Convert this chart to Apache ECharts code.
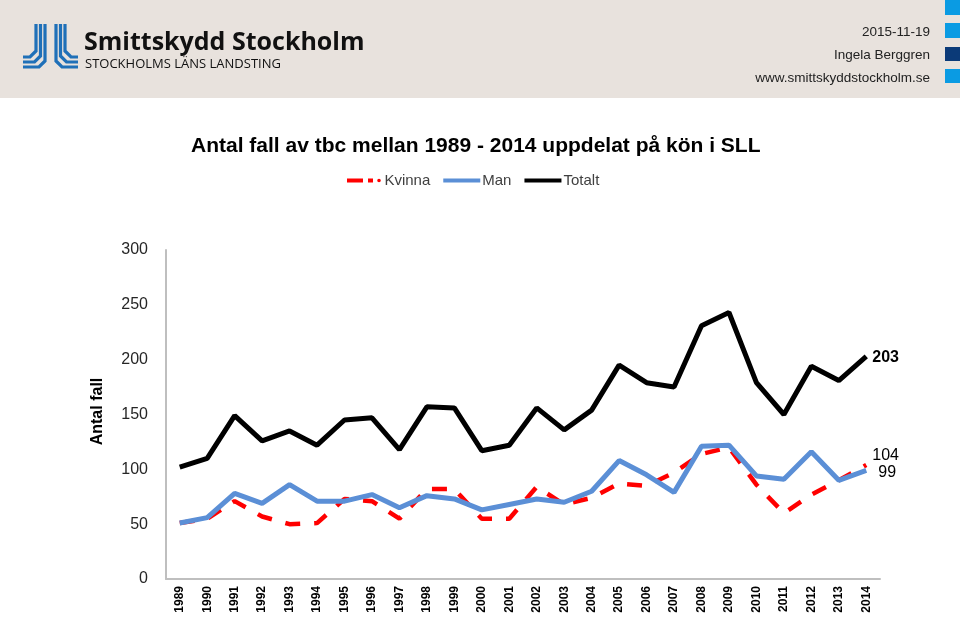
<!DOCTYPE html>
<html>
<head>
<meta charset="utf-8">
<script src="https://cdn.jsdelivr.net/npm/echarts@6/dist/echarts.min.js"></script>
<style>
html,body{margin:0;padding:0;background:#fff;}
#c{width:960px;height:620px;}
</style>
</head>
<body>
<div id="c"></div>
<script>
const years = ['1989','1990','1991','1992','1993','1994','1995','1996','1997','1998','1999','2000','2001','2002','2003','2004','2005','2006','2007','2008','2009','2010','2011','2012','2013','2014'];
const kvinna = [51,55,71,57,50,51,73,71,55,82,82,55,55,84,68,74,87,85,97,114,120,86,60,77,90,104];
const man = [51,56,78,69,86,71,71,77,65,76,73,63,68,73,70,80,108,95,79,121,122,94,91,116,90,99];
const totalt = [102,110,149,126,135,122,145,147,118,157,156,117,122,156,136,154,195,179,175,231,243,179,150,194,181,203];
const yTicks = [0,50,100,150,200,250,300];

const chart = echarts.init(document.getElementById('c'), null, {renderer:'canvas'});

// logo stripes
const blue = '#1f70b8';
const logo = [];
for (let i=0;i<3;i++){
  const xv = 36 + i*4.5, yh = 57 + i*5;
  logo.push({type:'polyline', shape:{points:[[xv,24],[xv,yh-6],[xv-6,yh],[23,yh]]}, style:{stroke:blue, lineWidth:3.2, fill:null}});
  const xr = 56 + i*4.5, yr = 67 - i*5;
  logo.push({type:'polyline', shape:{points:[[xr,24],[xr,yr-6],[xr+6,yr],[78,yr]]}, style:{stroke:blue, lineWidth:3.2, fill:null}});
}

const lblFont = {fontFamily:'Liberation Sans, Arial', fontSize:16, color:'#000', formatter:'{c}', distance:6};

const option = {
  backgroundColor:'#ffffff',
  animation:false,
  textStyle:{fontFamily:'Liberation Sans, Arial'},
  graphic:[
    {type:'rect', shape:{x:0,y:0,width:960,height:98}, style:{fill:'#e8e2dd'}, z:0},
    {type:'rect', shape:{x:945,y:0,width:15,height:15}, style:{fill:'#0a9be3'}},
    {type:'rect', shape:{x:945,y:23,width:15,height:15}, style:{fill:'#0a9be3'}},
    {type:'rect', shape:{x:945,y:47,width:15,height:14}, style:{fill:'#0b3a78'}},
    {type:'rect', shape:{x:945,y:69,width:15,height:14}, style:{fill:'#0a9be3'}},
    ...logo,
    {type:'text', left:84, top:30, style:{text:'Smittskydd Stockholm', font:'bold 25px "Open Sans", sans-serif', fill:'#111'}},
    {type:'text', left:85, top:58, style:{text:'STOCKHOLMS LÄNS LANDSTING', font:'13px "Open Sans", sans-serif', fill:'#111'}},
    {type:'text', right:30, top:25, style:{text:'2015-11-19', font:'13.5px "Liberation Sans", Arial', fill:'#222', textAlign:'right'}},
    {type:'text', right:30, top:48, style:{text:'Ingela Berggren', font:'13.5px "Liberation Sans", Arial', fill:'#222', textAlign:'right'}},
    {type:'text', right:30, top:71, style:{text:'www.smittskyddstockholm.se', font:'13.5px "Liberation Sans", Arial', fill:'#222', textAlign:'right'}}
  ],
  title:{
    text:'Antal fall av tbc mellan 1989 - 2014 uppdelat på kön i SLL',
    left:191, top:136, padding:0,
    textStyle:{fontFamily:'Liberation Sans, Arial', fontWeight:'bold', fontSize:21, color:'#000'}
  },
  legend:{
    data:[
      {name:'Kvinna', icon:'path://M0,0h16v4h-16z M21,0h5v4h-5z M32,0.2a1.8,1.8 0 1,0 0.01,0z'},
      {name:'Man', icon:'path://M0,0h38v4h-38z'},
      {name:'Totalt', icon:'path://M0,0h38v4h-38z'}
    ],
    top:173, left:347, padding:0,
    itemWidth:37, itemHeight:4, itemGap:13,
    textStyle:{fontFamily:'Liberation Sans, Arial', fontSize:15, color:'#404040', padding:[0,0,0,-3]}
  },
  grid:{left:166, right:80, top:250, bottom:41, containLabel:false},
  xAxis:{
    type:'category', data:years, boundaryGap:true,
    axisLine:{lineStyle:{color:'#bfbfbf', width:2}},
    axisTick:{show:false},
    axisLabel:{rotate:90, fontWeight:'bold', fontSize:12, color:'#000', margin:7, interval:0, fontFamily:'Liberation Sans, Arial'}
  },
  yAxis:{
    type:'value', min:0, max:300, interval:50,
    name:'Antal fall', nameLocation:'middle', nameRotate:90, nameGap:60,
    nameTextStyle:{fontFamily:'Liberation Sans, Arial', fontWeight:'bold', fontSize:16, color:'#000', padding:[0,0,0,6]},
    axisLine:{show:true, lineStyle:{color:'#bfbfbf', width:2}},
    axisTick:{show:false},
    splitLine:{show:false},
    axisLabel:{fontSize:16, color:'#262626', margin:18, fontFamily:'Liberation Sans, Arial',
      formatter:(v)=> yTicks.indexOf(v)>=0 ? String(v) : ''}
  },
  series:[
    {name:'Kvinna', type:'line', data:kvinna, symbol:'none', color:'#ff0000',
      lineStyle:{color:'#ff0000', width:4.5, type:[15,14], cap:'butt'}, z:2,
      endLabel:Object.assign({show:true, offset:[0,-9]}, lblFont)},
    {name:'Man', type:'line', data:man, symbol:'none', color:'#5b8fd6',
      lineStyle:{color:'#5b8fd6', width:5}, z:3,
      endLabel:Object.assign({show:true, offset:[6,2]}, lblFont)},
    {name:'Totalt', type:'line', data:totalt, symbol:'none', color:'#000',
      lineStyle:{color:'#000', width:5}, z:4,
      endLabel:Object.assign({show:true, fontWeight:'bold', offset:[0,1]}, lblFont)}
  ]
};
chart.setOption(option);
</script>
</body>
</html>
